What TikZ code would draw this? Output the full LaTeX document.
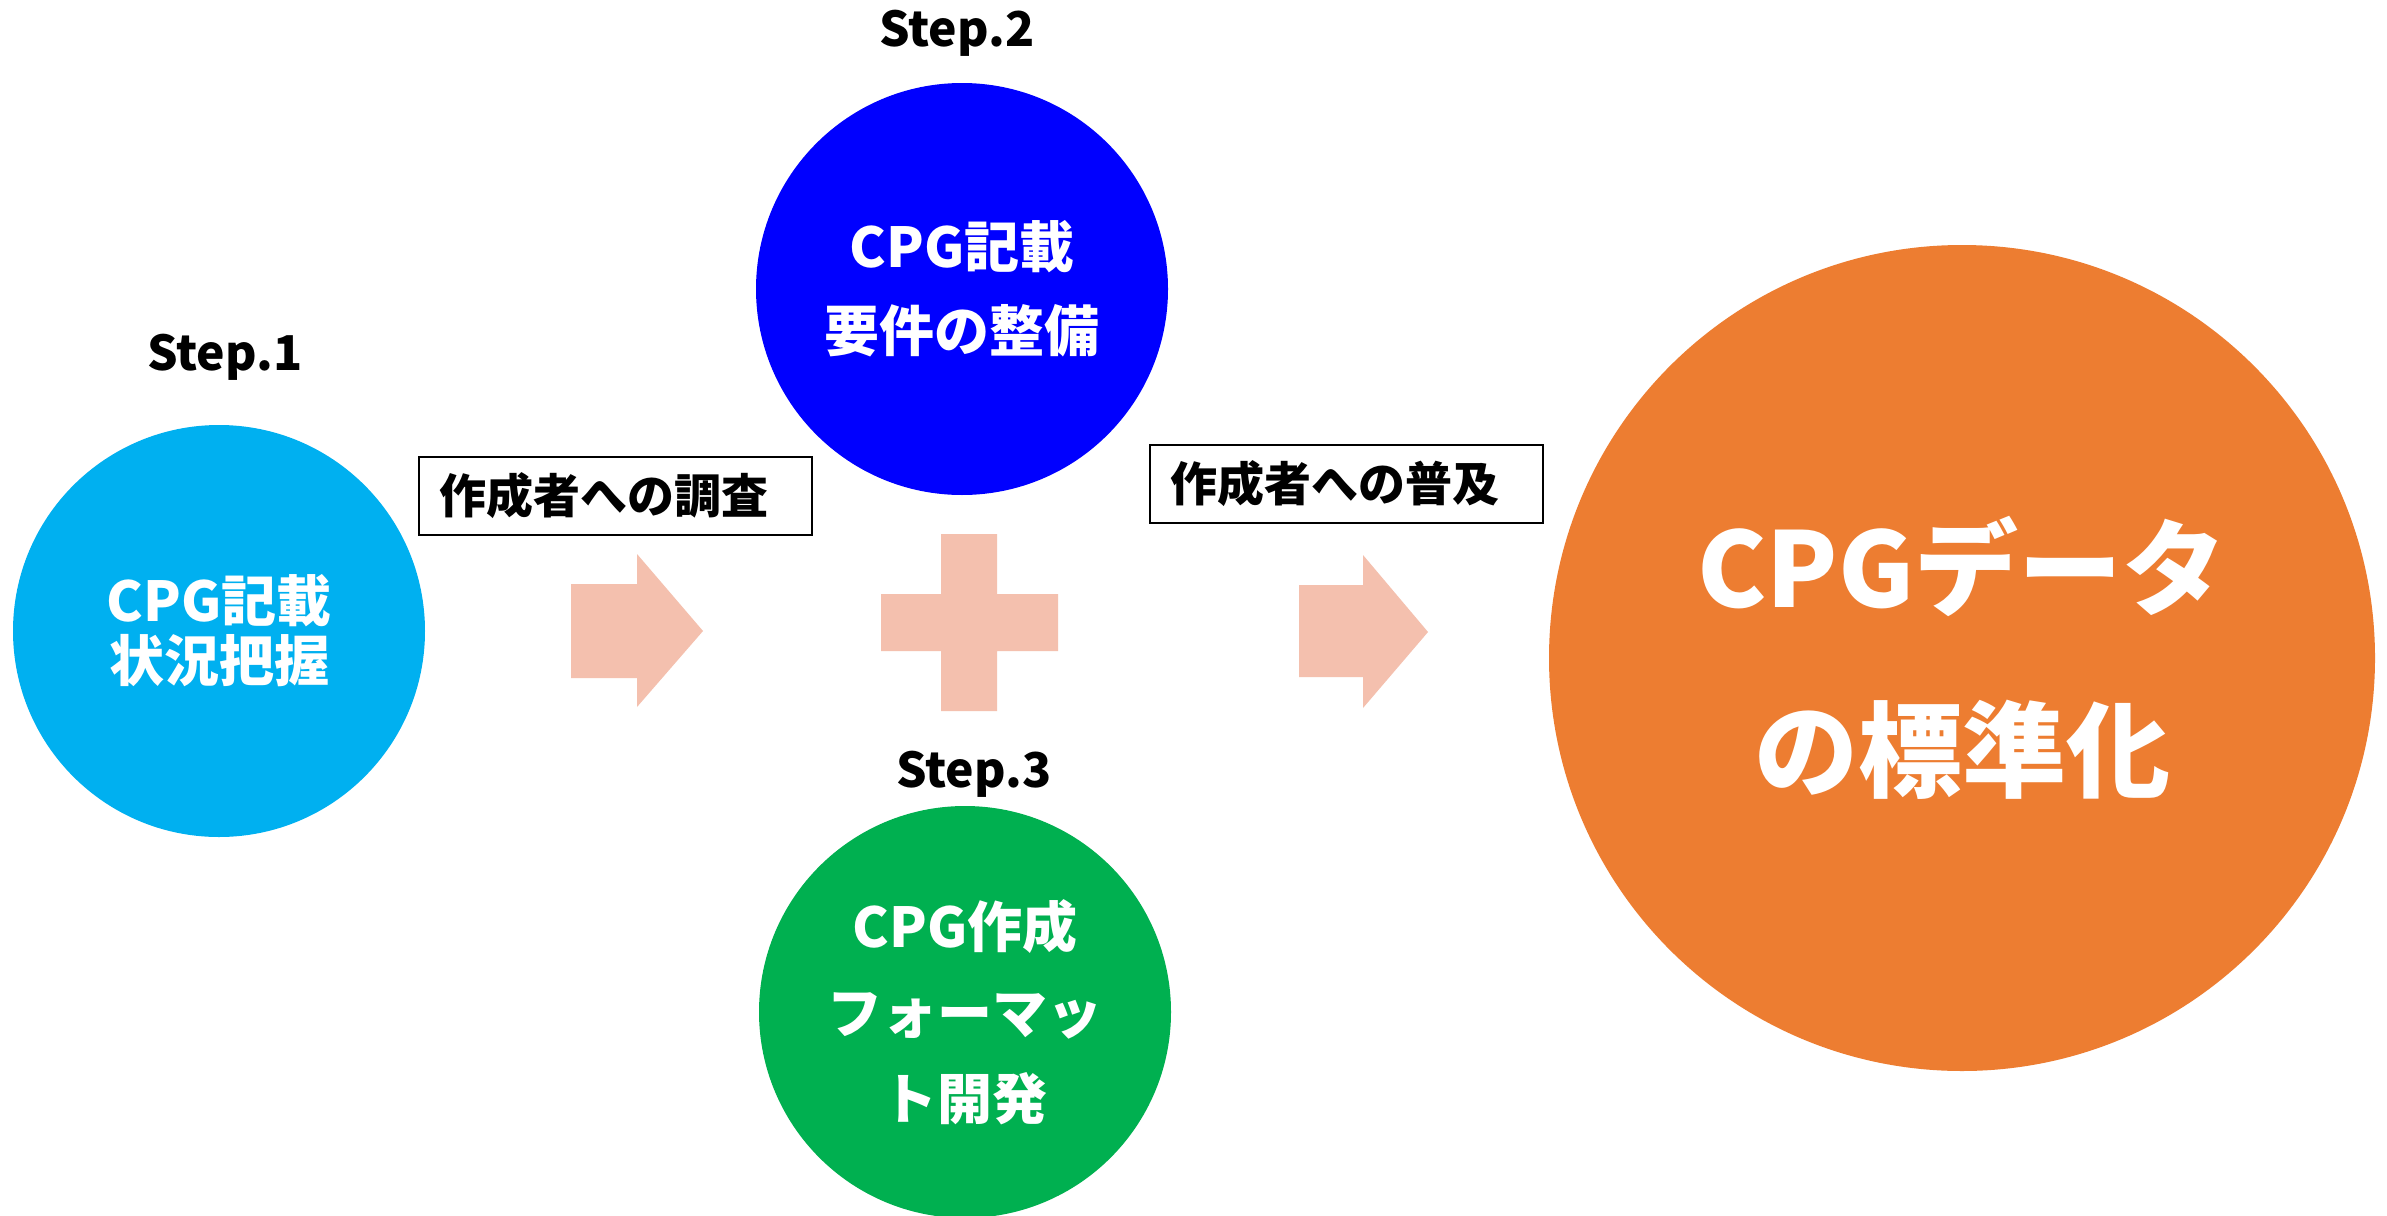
\documentclass[tikz,border=0pt]{standalone}
\usepackage{fontspec}
\setmainfont{Noto Sans CJK JP}
\definecolor{stepa}{HTML}{00B0F0}
\definecolor{stepb}{HTML}{0000FF}
\definecolor{stepc}{HTML}{00B050}
\definecolor{goal}{HTML}{ED7D31}
\definecolor{pinkish}{HTML}{F4C0AE}
\begin{document}
\begin{tikzpicture}[x=1pt,y=-1pt,
  bigcirc/.style={circle, minimum size=412pt, inner sep=0pt, text=white, align=center},
  steplabel/.style={anchor=base, font=\fontsize{48}{56}\selectfont\bfseries},
  boxframe/.style={draw=black, line width=2.5pt, minimum width=393pt, minimum height=78pt, inner sep=0pt},
  boxtext/.style={anchor=west, inner sep=0pt, font=\fontsize{47}{54}\selectfont\bfseries},
  blockshape/.style={fill=pinkish, draw=none}]
\useasboundingbox (0,0) rectangle (2387,1215);
\fill[white] (0,0) rectangle (2387,1215);

% circles
\node[bigcirc, fill=stepa, font=\fontsize{55}{60}\selectfont\bfseries] (c1) at (219,631) {CPG記載\\状況把握};
\node[bigcirc, fill=stepb, font=\fontsize{55}{84}\selectfont\bfseries] (c2) at (962,289) {CPG記載\\要件の整備};
\node[bigcirc, fill=stepc, font=\fontsize{55}{86}\selectfont\bfseries] (c3) at (965,1012) {CPG作成\\フォーマッ\\ト開発};
\node[bigcirc, minimum size=826pt, fill=goal, font=\fontsize{104}{182}\selectfont\bfseries] (c4) at (1962,658) {CPGデータ\\の標準化};

% step labels
\node[steplabel] (s1) at (225,370) {Step.1};
\node[steplabel] (s2) at (957,47) {Step.2};
\node[steplabel] (s3) at (974,787) {Step.3};

% label boxes
\node[boxframe] (b1) at (615.5,496) {};
\node[boxtext] (t1) at ([xshift=22pt]b1.west) {作成者への調査};
\node[boxframe] (b2) at (1346.5,484) {};
\node[boxtext] (t2) at ([xshift=22pt]b2.west) {作成者への普及};

% block arrows
\fill[blockshape] (571,584) -- (637,584) -- (637,554) -- (703,631) -- (637,707) -- (637,678) -- (571,678) -- cycle;
\fill[blockshape] (1299,585) -- (1363,585) -- (1363,555) -- (1428,632) -- (1363,708) -- (1363,677) -- (1299,677) -- cycle;

% plus sign
\fill[blockshape] (941,534) -- (997,534) -- (997,594) -- (1058,594) -- (1058,651) -- (997,651) -- (997,711) -- (941,711) -- (941,651) -- (881,651) -- (881,594) -- (941,594) -- cycle;
\end{tikzpicture}
\end{document}
